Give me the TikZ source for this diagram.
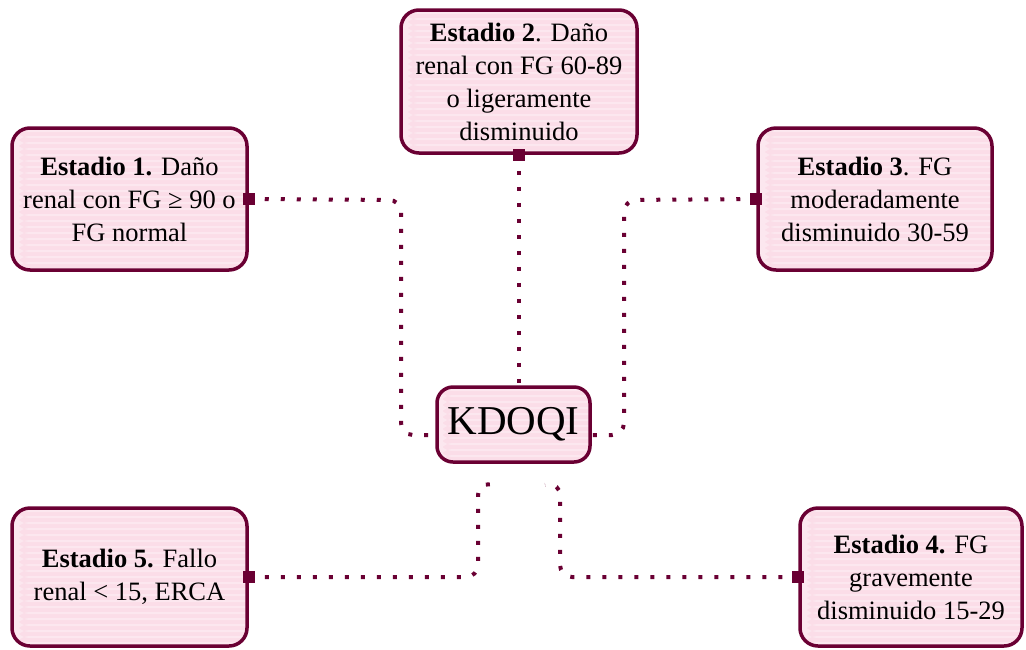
\documentclass[tikz,border=0pt]{standalone}
\usepackage{fontspec}
\setmainfont{Liberation Serif}
\usetikzlibrary{calc}
\definecolor{maroon}{HTML}{6A0033}
\definecolor{pinkfill}{HTML}{FBDDE8}
\definecolor{pinkstripe}{HTML}{FCE7EF}
\tikzset{
  box/.style={draw=maroon, line width=3.5pt, rounded corners=18pt, fill=pinkfill,
    align=center, inner sep=0pt, font=\fontsize{26.5}{33}\selectfont,
    path picture={\foreach \i in {0,...,40}{\fill[pinkstripe] ([yshift=-\i*6pt-2pt]path picture bounding box.north west) rectangle ++(400pt,-2pt);}}},
  sq/.style={fill=maroon, minimum size=12pt, inner sep=0pt, draw=none},
  conn/.style={draw=maroon, line width=4pt, dash pattern=on 4pt off 12pt, rounded corners=12pt}
}
\begin{document}
\begin{tikzpicture}[x=1pt,y=-1pt]
\useasboundingbox (0,0) rectangle (1026,649);
\node[box, minimum width=235pt, minimum height=142pt] (b1) at (129.5,199) {\textbf{Estadio 1.} Daño\\renal con FG ≥ 90 o\\FG normal};
\node[box, minimum width=236pt, minimum height=143pt] (b2) at (519,81.5) {\textbf{Estadio 2}. Daño\\renal con FG 60-89\\o ligeramente\\disminuido};
\node[box, minimum width=234pt, minimum height=142pt] (b3) at (875,199) {\textbf{Estadio 3}. FG\\moderadamente\\disminuido 30-59};
\node[box, minimum width=235pt, minimum height=138pt] (b5) at (129.5,577) {\textbf{Estadio 5.} Fallo\\renal < 15, ERCA};
\node[box, minimum width=222pt, minimum height=138pt] (b4) at (911,577) {\textbf{Estadio 4.} FG\\gravemente\\disminuido 15-29};
\node[box, minimum width=153pt, minimum height=75pt, rounded corners=16pt, font=\fontsize{41}{45}\selectfont] (kd) at (513.5,424.5) {KDOQI};
\coordinate (kdl) at ([yshift=-10.5pt]kd.west);
\coordinate (kdr) at ([yshift=-10.5pt]kd.east);
\coordinate (kdbl) at ([xshift=-18.5pt,yshift=-21pt]kd.south);
\coordinate (kdbr) at ([xshift=31.5pt,yshift=-21pt]kd.south);
\draw[conn] (b1.east) -- (401,200) -- (401,435) -- (kdl);
\draw[conn] (b2.south) -- (b2.south |- kd.north);
\draw[conn] (b3.west) -- (624,200) -- (624,435) -- (kdr);
\draw[conn] (b5.east) -- (478,577) -- (478,483) -- (kdbl);
\draw[conn] (b4.west) -- (560,577) -- (560,483) -- (kdbr);
\node[sq] (s1) at (b1.east) {};
\node[sq] (s2) at (b2.south) {};
\node[sq] (s3) at (b3.west) {};
\node[sq] (s5) at (b5.east) {};
\node[sq] (s4) at (b4.west) {};
\end{tikzpicture}
\end{document}
